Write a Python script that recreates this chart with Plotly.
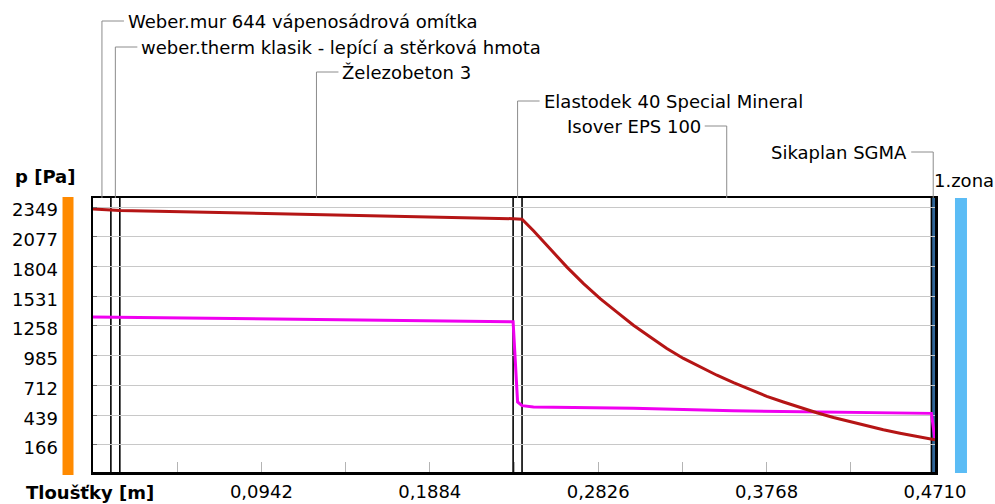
import plotly.graph_objects as go

W, H = 995, 504

# ---------------- data ----------------
layer_names = [
    "Weber.mur 644 vápenosádrová omítka",
    "weber.therm klasik - lepící a stěrková hmota",
    "Železobeton 3",
    "Elastodek 40 Special Mineral",
    "Isover EPS 100",
    "Sikaplan SGMA",
]
layer_bounds = [0.0, 0.010, 0.015, 0.235, 0.240, 0.469, 0.471]
zone_label = "1.zona"

x_tick_vals = [0.0471, 0.0942, 0.1413, 0.1884, 0.2355, 0.2826, 0.3297, 0.3768, 0.4239, 0.4710]
x_tick_text = ["", "0,0942", "", "0,1884", "", "0,2826", "", "0,3768", "", "0,4710"]
y_tick_vals = [166, 439, 712, 985, 1258, 1531, 1804, 2077, 2349]
y_tick_text = ["166", "439", "712", "985", "1258", "1531", "1804", "2077", "2349"]

# saturated water vapour pressure [Pa]
x_sat = [0.0, 0.010, 0.015, 0.235, 0.240, 0.2464, 0.2558, 0.2651, 0.2744, 0.2837,
         0.2931, 0.3023, 0.3117, 0.3210, 0.3303, 0.3397, 0.3490, 0.3583, 0.3676,
         0.3769, 0.3862, 0.3955, 0.4049, 0.4142, 0.4235, 0.4328, 0.4421, 0.4514,
         0.4608, 0.4690, 0.4710]
p_sat = [2330, 2322, 2318, 2242, 2238, 2132, 1964, 1798, 1646, 1508,
         1385, 1265, 1157, 1052, 960, 880, 806, 738, 672,
         612, 560, 510, 462, 418, 378, 340, 305, 274,
         245, 220, 213]

# partial water vapour pressure [Pa]
x_part = [0.0, 0.010, 0.015, 0.235, 0.2375, 0.240, 0.2464, 0.3023, 0.3580, 0.4690, 0.4710]
p_part = [1340, 1338, 1336, 1297, 560, 527, 515, 502, 480, 456, 213]

# ---------------- layout helpers (pixel -> axis-domain fractions) ----------------
PLOT_L, PLOT_R, PLOT_T, PLOT_B = 92.5, 935.0, 198.0, 472.0

def dx(xp):
    return (xp - PLOT_L) / (PLOT_R - PLOT_L)

def dy(yp):
    return (PLOT_B - yp) / (PLOT_B - PLOT_T)

FONT = "DejaVu Sans, Liberation Sans, sans-serif"
FS = 18
FIG_SPACE = "\u2007"

maxlen = max(len(t) for t in y_tick_text)
y_tick_disp = [FIG_SPACE * (maxlen - len(t)) + t for t in y_tick_text]

fig = go.Figure()
fig.add_trace(go.Scatter(x=x_part, y=p_part, mode="lines",
                         line=dict(color="#f000f0", width=3), hoverinfo="skip"))
fig.add_trace(go.Scatter(x=x_sat, y=p_sat, mode="lines",
                         line=dict(color="#b51515", width=3), hoverinfo="skip"))

shapes = []
shapes.append(dict(type="rect", xref="x", yref="y domain", x0=layer_bounds[5], x1=layer_bounds[6],
                   y0=0, y1=1, fillcolor="#2f6496", line=dict(width=0), layer="below"))
for b in layer_bounds[1:-1]:
    shapes.append(dict(type="line", xref="x", yref="y domain", x0=b, x1=b, y0=0, y1=1,
                       line=dict(color="black", width=1.6), layer="below"))
shapes.append(dict(type="rect", xref="x domain", yref="y domain", x0=dx(62), x1=dx(73),
                   y0=dy(475), y1=dy(197), fillcolor="#ff8a00", line=dict(width=0)))
shapes.append(dict(type="rect", xref="x domain", yref="y domain", x0=dx(955), x1=dx(967),
                   y0=dy(473), y1=dy(198), fillcolor="#5bbcf5", line=dict(width=0)))

label_y = [21, 47, 72, 101, 126, 152]
label_dir = [1, 1, 1, 1, -1, -1]
annotations = []
for i, name in enumerate(layer_names):
    mid = (layer_bounds[i] + layer_bounds[i + 1]) / 2
    ly = label_y[i]
    d = label_dir[i]
    shapes.append(dict(type="line", xref="x", yref="y domain", x0=mid, x1=mid,
                       y0=1, y1=dy(ly), line=dict(color="#8c8c8c", width=1)))
    shapes.append(dict(type="line", xref="x", yref="y domain", xsizemode="pixel", xanchor=mid,
                       x0=0, x1=22 * d, y0=dy(ly), y1=dy(ly),
                       line=dict(color="#8c8c8c", width=1)))
    annotations.append(dict(text=name, xref="x", yref="y domain", x=mid, y=dy(ly),
                            xshift=24 * d, xanchor="left" if d > 0 else "right",
                            yanchor="middle", showarrow=False,
                            font=dict(family=FONT, size=FS, color="black")))

annotations.append(dict(text=zone_label, xref="x domain", yref="y domain", x=dx(932), y=dy(181),
                        xanchor="left", yanchor="middle", showarrow=False,
                        font=dict(family=FONT, size=FS, color="black")))
annotations.append(dict(text="<b>p [Pa]</b>", xref="x domain", yref="y domain", x=dx(12), y=dy(176),
                        xanchor="left", yanchor="middle", showarrow=False,
                        font=dict(family=FONT, size=FS, color="black")))
annotations.append(dict(text="<b>Tloušťky [m]</b>", xref="x domain", yref="y domain", x=dx(23), y=dy(492),
                        xanchor="left", yanchor="middle", showarrow=False,
                        font=dict(family=FONT, size=FS, color="black")))

yr = [-82, 2432]
fig.update_layout(
    width=W, height=H, autosize=False,
    margin=dict(l=PLOT_L, r=W - PLOT_R, t=PLOT_T, b=H - PLOT_B, pad=0),
    paper_bgcolor="white", plot_bgcolor="white",
    showlegend=False,
    shapes=shapes, annotations=annotations,
    xaxis=dict(range=[0, layer_bounds[-1]], automargin=False,
               tickvals=x_tick_vals, ticktext=x_tick_text,
               ticks="inside", ticklen=10, tickcolor="#b4b4b4", tickwidth=1,
               showgrid=False, zeroline=False,
               showline=True, linecolor="black", linewidth=2.5, mirror=True,
               ticklabelstandoff=2,
               tickfont=dict(family=FONT, size=FS, color="black")),
    yaxis=dict(range=yr, automargin=False,
               tickvals=y_tick_vals, ticktext=y_tick_disp,
               ticks="inside", ticklen=4, tickcolor="#707070",
               ticklabelstandoff=29, ticklabelshift=3,
               showgrid=True, gridcolor="#c8c8c8", gridwidth=1, zeroline=False,
               showline=True, linecolor="black", linewidth=2.5, mirror=True,
               tickfont=dict(family=FONT, size=FS, color="black")),
)

fig.write_html("out.html",
               config={"responsive": False, "displayModeBar": False, "staticPlot": True},
               post_script="document.body.style.margin='0px';")
